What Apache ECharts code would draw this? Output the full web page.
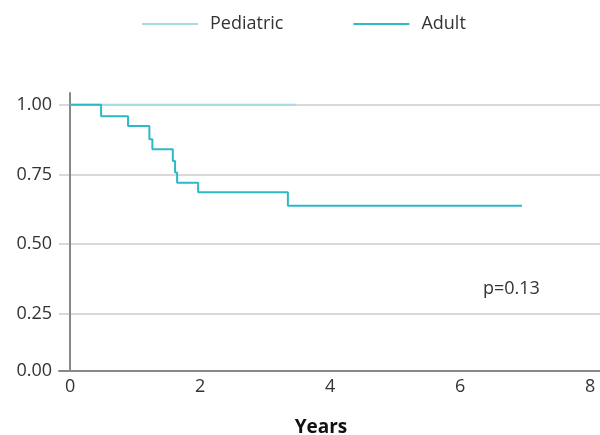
<!DOCTYPE html>
<html>
<head>
<meta charset="utf-8">
<script src="https://cdn.jsdelivr.net/npm/echarts@6/dist/echarts.min.js"></script>
<style>
  html, body { margin: 0; padding: 0; background: #fff; }
  #km-chart { width: 600px; height: 435px; }
</style>
</head>
<body>
<div id="km-chart"></div>
<script>
// survival curves (time in years, survival probability)
const seriesNames = ['Pediatric', 'Adult'];
const pediatricTimes = [0, 3.48];
const pediatricSurv = [1, 1];
const adultTimes = [0, 0.477, 0.892, 1.22, 1.266, 1.58, 1.615, 1.646, 1.97, 3.35, 6.95];
const adultSurv = [1, 0.959, 0.924, 0.876, 0.840, 0.798, 0.757, 0.720, 0.686, 0.637, 0.637];
const xTicks = [0, 2, 4, 6, 8];
const yTicks = [0, 0.25, 0.5, 0.75, 1];
const pValueText = 'p=0.13';

const Y_MIN = 0.0445; // axis line sits slightly above the 0 position in the original
const FONT = '"Open Sans", "Noto Sans", sans-serif';

function toPairs(xs, ys) {
    return xs.map((x, i) => [x, ys[i]]);
}

function renderChart() {
    const chart = echarts.init(document.getElementById('km-chart'));

    const option = {
        animation: false,
        legend: {
            data: seriesNames,
            top: 10,
            left: 137,
            icon: 'rect',
            itemWidth: 56,
            itemHeight: 2,
            itemGap: 70,
            textStyle: {
                fontFamily: FONT, fontSize: 18, color: '#333',
                padding: [0, 0, 0, 7]
            }
        },
        grid: {
            left: 59,
            right: 0,
            top: 93,
            bottom: 64,
            outerBoundsMode: 'none'
        },
        xAxis: {
            type: 'value',
            min: -0.17,
            max: 8.15,
            name: 'Years',
            nameLocation: 'middle',
            nameGap: 47,
            nameTextStyle: {
                fontFamily: FONT, fontSize: 19, fontWeight: 'bold', color: '#111',
                padding: [0, 17, 0, 0]
            },
            axisLine: { lineStyle: { color: '#888', width: 2 } },
            axisTick: { show: false, customValues: xTicks },
            splitLine: { show: false },
            axisLabel: {
                customValues: xTicks,
                fontFamily: FONT, fontSize: 18, color: '#333', margin: 7
            }
        },
        yAxis: {
            type: 'value',
            min: Y_MIN,
            max: 1.042,
            axisLine: { show: true, lineStyle: { color: '#888', width: 2 } },
            axisTick: { show: false, customValues: [Y_MIN].concat(yTicks.slice(1)) },
            splitLine: { show: true, lineStyle: { color: '#ccc', width: 1.5 } },
            axisLabel: {
                customValues: [Y_MIN].concat(yTicks.slice(1)),
                fontFamily: FONT, fontSize: 18, color: '#333', margin: 7,
                formatter: v => (v < 0.1 ? 0 : v).toFixed(2)
            }
        },
        graphic: [{
            type: 'text',
            left: 483,
            top: 280,
            style: { text: pValueText, fontFamily: FONT, fontSize: 18, fill: '#333' }
        }],
        series: [
            {
                name: 'Pediatric',
                type: 'line',
                step: 'end',
                symbol: 'none',
                lineStyle: { color: '#a8dce2', width: 2 },
                itemStyle: { color: '#a8dce2' },
                data: toPairs(pediatricTimes, pediatricSurv)
            },
            {
                name: 'Adult',
                type: 'line',
                step: 'end',
                symbol: 'none',
                lineStyle: { color: '#2fb8c6', width: 2 },
                itemStyle: { color: '#2fb8c6' },
                data: toPairs(adultTimes, adultSurv)
            }
        ]
    };

    chart.setOption(option);
}

renderChart();
</script>
</body>
</html>
